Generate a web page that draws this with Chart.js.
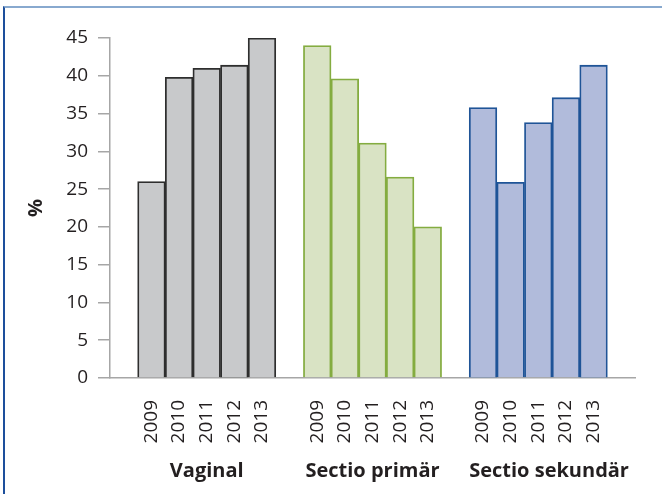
<!DOCTYPE html>
<html>
<head>
<meta charset="utf-8">
<script src="https://cdn.jsdelivr.net/npm/chart.js@4"></script>
<style>
    html, body { margin: 0; padding: 0; background: #fff; }
    #frame {
        position: absolute; left: 3px; top: 6px; width: 659px; height: 488px;
        border-top: 2px solid #88a9cf; border-left: 2px solid #1d4f9c;
    }
    #wrap { position: absolute; left: 0; top: 0; width: 662px; height: 494px; }
</style>
</head>
<body>
<div id="frame"></div>
<div id="wrap"><canvas id="chart" width="662" height="494"></canvas></div>
<script>
// Data
const years = ['2009', '2010', '2011', '2012', '2013'];
const groups = ['Vaginal', 'Sectio primär', 'Sectio sekundär'];
const vaginal = [26, 39.8, 41, 41.4, 45];
const sectioPrimar = [44, 39.6, 31.1, 26.6, 20];
const sectioSekundar = [35.8, 25.9, 33.8, 37.1, 41.4];

const fills = ['#c8c9cb', '#d9e3c4', '#b1bbdb'];
const borders = ['#2e2e2e', '#84ac40', '#1f5497'];
const textColor = '#231f20';
const axisColor = '#a6a6a6';

// Build slots: a blank slot before each group and one at the end
const labels = [];
const values = [];
const bg = [];
const bd = [];
[vaginal, sectioPrimar, sectioSekundar].forEach((series, g) => {
    labels.push('');
    values.push(null);
    bg.push('transparent');
    bd.push('transparent');
    series.forEach((v, i) => {
        labels.push(years[i]);
        values.push(v);
        bg.push(fills[g]);
        bd.push(borders[g]);
    });
});
labels.push('');
values.push(null);
bg.push('transparent');
bd.push('transparent');

Chart.defaults.font.family = '"Open Sans", sans-serif';
Chart.defaults.color = textColor;

// Bold group names under the year labels
const groupLabels = {
    id: 'groupLabels',
    afterDraw(chart) {
        const { ctx, scales: { x } } = chart;
        ctx.save();
        ctx.font = 'bold 20px "Open Sans", sans-serif';
        ctx.fillStyle = textColor;
        ctx.textAlign = 'center';
        groups.forEach((name, g) => {
            const first = 1 + g * 6;
            const half = (x.getPixelForValue(first + 1) - x.getPixelForValue(first)) / 2;
            const start = x.getPixelForValue(first) - half;
            const center = (x.getPixelForValue(first) + x.getPixelForValue(first + 4)) / 2;
            const w = ctx.measureText(name).width;
            ctx.fillText(name, Math.max(center, start + w / 2), 477);
        });
        ctx.restore();
    }
};

const ctx = document.getElementById('chart').getContext('2d');
new Chart(ctx, {
    type: 'bar',
    data: {
        labels: labels,
        datasets: [{
            data: values,
            backgroundColor: bg,
            borderColor: bd,
            borderWidth: 1.8,
            barPercentage: 1,
            categoryPercentage: 1
        }]
    },
    options: {
        responsive: false,
        animation: false,
        layout: { padding: { left: 0, top: 38, right: 27, bottom: 0 } },
        plugins: {
            legend: { display: false },
            tooltip: { enabled: false }
        },
        scales: {
            x: {
                grid: { display: false },
                border: { color: axisColor, width: 1.5 },
                ticks: {
                    autoSkip: false,
                    maxRotation: 90,
                    minRotation: 90,
                    padding: 14,
                    font: { size: 19 }
                },
                afterFit: s => { s.height = 116; }
            },
            y: {
                min: 0,
                max: 45,
                ticks: { stepSize: 5, padding: 10, font: { size: 19 } },
                grid: { drawOnChartArea: false, tickLength: 12, color: axisColor, lineWidth: 1.5 },
                border: { color: axisColor, width: 1.5 },
                title: {
                    display: true,
                    text: '%',
                    font: { size: 20, weight: 'bold' },
                    padding: { top: 24, bottom: 0 }
                },
                afterFit: s => { s.width = 110; }
            }
        }
    },
    plugins: [groupLabels]
});
</script>
</body>
</html>
